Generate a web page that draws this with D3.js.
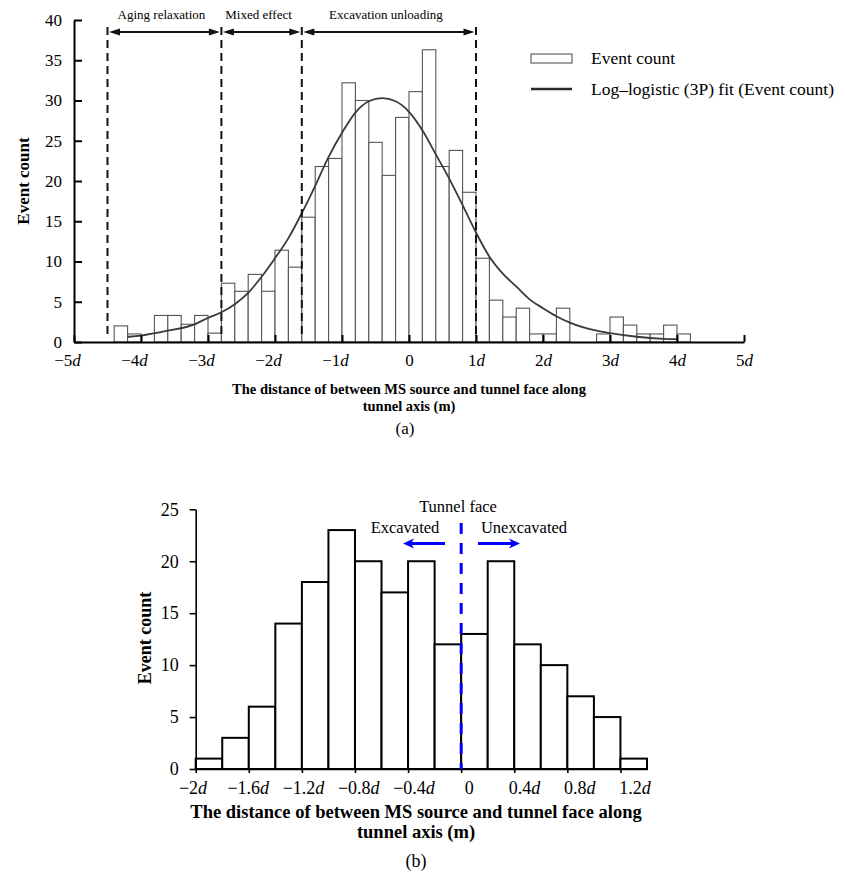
<!DOCTYPE html>
<html>
<head>
<meta charset="utf-8">
<title>MS event distance histograms</title>
<script src="https://d3js.org/d3.v7.min.js"></script>
<style>
body { margin: 0; background: #fff; }
svg { font-family: "Liberation Serif", "Times New Roman", serif; }
</style>
</head>
<body>
<div id="chart"></div>
<script>

// ---------- (a) data : distance in multiples of d ----------
var aBinWidth = 0.2;
var aBinLeft = [-4.4, -4.2, -4.0, -3.8, -3.6, -3.4, -3.2, -3.0, -2.8, -2.6, -2.4, -2.2, -2.0, -1.8,
                -1.6, -1.4, -1.2, -1.0, -0.8, -0.6, -0.4, -0.2, 0.0, 0.2, 0.4, 0.6, 0.8,
                1.0, 1.2, 1.4, 1.6, 1.8, 2.0, 2.2, 2.4, 2.6, 2.8, 3.0, 3.2, 3.4, 3.6, 3.8, 4.0];
var aCounts = [2.0, 1.0, 0, 3.3, 3.3, 2.2, 3.3, 1.1, 7.3, 6.3, 8.4, 6.3, 11.4, 9.3,
               15.5, 21.8, 22.8, 32.2, 30.0, 24.8, 20.7, 27.9, 31.1, 36.3, 21.8, 23.8, 18.6,
               10.4, 5.2, 3.1, 4.2, 1.0, 1.0, 4.2, 0, 0, 1.0, 3.1, 2.1, 1.0, 1.0, 2.1, 1.0];
// log-logistic fit
var aFitX = [-4.2, -4.0, -3.6, -3.2, -3.0, -2.8, -2.6, -2.4, -2.2, -2.0, -1.8, -1.6, -1.4, -1.2,
             -1.0, -0.8, -0.6, -0.4, -0.2, 0.0, 0.2, 0.4, 0.6, 0.8, 1.0, 1.2, 1.4, 1.6, 1.8,
             2.0, 2.2, 2.4, 2.8, 3.0, 3.4, 3.8, 4.0];
var aFitY = [0.65, 0.8, 1.4, 2.2, 3.0, 3.7, 4.7, 6.1, 8.1, 10.4, 12.9, 16.0, 19.4, 23.0,
             26.0, 28.5, 29.9, 30.3, 29.9, 28.6, 26.3, 23.3, 20.3, 17.0, 13.6, 10.6, 8.5, 6.9, 5.3,
             4.2, 3.2, 2.4, 1.4, 1.1, 0.65, 0.4, 0.35];
var aXTicks = [-5, -4, -3, -2, -1, 0, 1, 2, 3, 4, 5];
var aYTicks = [0, 5, 10, 15, 20, 25, 30, 35, 40];
var aZones = [-4.5, -2.8, -1.6, 1.0];
var aZoneLabels = ["Aging relaxation", "Mixed effect", "Excavation unloading"];
var aLegend = ["Event count", "Log\u2013logistic (3P) fit (Event count)"];

// ---------- (b) data ----------
var bBinWidth = 0.2;
var bBinLeft = [-2.0, -1.8, -1.6, -1.4, -1.2, -1.0, -0.8, -0.6, -0.4, -0.2, 0.0, 0.2, 0.4, 0.6, 0.8, 1.0, 1.2];
var bCounts = [1, 3, 6, 14, 18, 23, 20, 17, 20, 12, 13, 20, 12, 10, 7, 5, 1];
var bXTicks = [-2, -1.6, -1.2, -0.8, -0.4, 0, 0.4, 0.8, 1.2];
var bYTicks = [0, 5, 10, 15, 20, 25];
var bFace = 0;

var xTitle = ["The distance of between MS source and tunnel face along", "tunnel axis (m)"];

var svg = d3.select("#chart").append("svg")
  .attr("width", 845)
  .attr("height", 873);

// label "−4d" with italic d
function dLabel(sel, v) {
  sel.text(null);
  if (v === 0) { sel.text("0"); return; }
  var s = (v < 0 ? "\u2212" : "") + d3.format("~g")(Math.abs(v));
  sel.append("tspan").text(s);
  sel.append("tspan").attr("font-style", "italic").text("d");
}

// ================= chart (a) =================
var xA = d3.scaleLinear().domain([-5, 5]).range([74, 744]);
var yA = d3.scaleLinear().domain([0, 40]).range([342, 20]);
var gA = svg.append("g");

gA.append("g").selectAll("rect")
  .data(aBinLeft)
  .join("rect")
  .attr("x", d => xA(d))
  .attr("width", d => xA(d + aBinWidth) - xA(d))
  .attr("y", (d, i) => yA(aCounts[i]))
  .attr("height", (d, i) => yA(0) - yA(aCounts[i]))
  .attr("fill", "#fff")
  .attr("stroke", "#555")
  .attr("stroke-width", 1.1)
  .attr("display", (d, i) => aCounts[i] > 0 ? null : "none");

var fitLine = d3.line()
  .x((d, i) => xA(aFitX[i]))
  .y(d => yA(d))
  .curve(d3.curveMonotoneX);

gA.append("path")
  .attr("d", fitLine(aFitY))
  .attr("fill", "none")
  .attr("stroke", "#3a3a3a")
  .attr("stroke-width", 1.8);

// zone boundaries
gA.append("g").selectAll("line")
  .data(aZones)
  .join("line")
  .attr("x1", d => xA(d)).attr("x2", d => xA(d))
  .attr("y1", 27).attr("y2", yA(0) - 4)
  .attr("stroke", "#111")
  .attr("stroke-width", 2)
  .attr("stroke-dasharray", "8,5");

// double arrows with labels
var arrowY = 32;
aZoneLabels.forEach(function(lab, i) {
  var x1 = xA(aZones[i]) + 1.5, x2 = xA(aZones[i + 1]) - 1.5;
  gA.append("line")
    .attr("x1", x1 + 6).attr("x2", x2 - 6)
    .attr("y1", arrowY).attr("y2", arrowY)
    .attr("stroke", "#111").attr("stroke-width", 1.8);
  gA.append("path")
    .attr("d", `M${x1},${arrowY}L${x1 + 11},${arrowY - 3.5}L${x1 + 11},${arrowY + 3.5}Z`)
    .attr("fill", "#111");
  gA.append("path")
    .attr("d", `M${x2},${arrowY}L${x2 - 11},${arrowY - 3.5}L${x2 - 11},${arrowY + 3.5}Z`)
    .attr("fill", "#111");
  gA.append("text")
    .attr("x", (x1 + x2) / 2 - 3)
    .attr("y", 19)
    .attr("text-anchor", "middle")
    .attr("font-size", 13)
    .text(lab);
});

// axes
var axA = gA.append("g")
  .attr("transform", `translate(0,${yA(0)})`)
  .call(d3.axisBottom(xA).tickValues(aXTicks).tickSize(-7).tickSizeOuter(0).tickPadding(12));
axA.selectAll(".tick text")
  .attr("font-size", 17)
  .attr("font-family", "Liberation Serif, Times New Roman, serif")
  .attr("fill", "#000")
  .attr("x", d => d < 0 ? -7 : 0)
  .each(function(d) { dLabel(d3.select(this), d); });

var ayA = gA.append("g")
  .attr("transform", `translate(${xA(-5)},0)`)
  .call(d3.axisLeft(yA).tickValues(aYTicks).tickSize(-8).tickSizeOuter(0).tickPadding(12));
ayA.selectAll(".tick text")
  .attr("font-size", 17)
  .attr("font-family", "Liberation Serif, Times New Roman, serif")
  .attr("fill", "#000");

[axA, ayA].forEach(function(a) {
  a.select(".domain").attr("stroke", "#000").attr("stroke-width", 2);
  a.selectAll(".tick line").attr("stroke", "#000").attr("stroke-width", 2);
});

gA.append("text")
  .attr("transform", "translate(23,181) rotate(-90)")
  .attr("text-anchor", "middle")
  .attr("dominant-baseline", "central")
  .attr("font-weight", "bold")
  .attr("font-size", 17)
  .text("Event count");

gA.selectAll(".xtitle")
  .data(xTitle)
  .join("text")
  .attr("x", 409)
  .attr("y", (d, i) => 394 + i * 17)
  .attr("text-anchor", "middle")
  .attr("font-weight", "bold")
  .attr("font-size", 14.5)
  .text(d => d);

gA.append("text")
  .attr("x", 405).attr("y", 434)
  .attr("text-anchor", "middle")
  .attr("font-size", 17)
  .text("(a)");

// legend
var leg = gA.append("g");
leg.append("rect")
  .attr("x", 531).attr("y", 54).attr("width", 41).attr("height", 9)
  .attr("fill", "#fff").attr("stroke", "#555").attr("stroke-width", 1.1);
leg.append("line")
  .attr("x1", 531).attr("x2", 572).attr("y1", 89).attr("y2", 89)
  .attr("stroke", "#2a2a2a").attr("stroke-width", 2.5);
leg.selectAll("text")
  .data(aLegend)
  .join("text")
  .attr("x", 591)
  .attr("y", (d, i) => 64 + i * 31)
  .attr("font-size", 17.5)
  .text(d => d);

// ================= chart (b) =================
var xB = d3.scaleLinear().domain([-2, 1.4]).range([195.7, 647]);
var xBLabel = d3.scaleLinear().domain([-2, 1.2]).range([193, 635]);
var yB = d3.scaleLinear().domain([0, 25]).range([769, 509.3]);
var gB = svg.append("g");

gB.append("g").selectAll("rect")
  .data(bBinLeft)
  .join("rect")
  .attr("x", d => xB(d))
  .attr("width", d => xB(d + bBinWidth) - xB(d))
  .attr("y", (d, i) => yB(bCounts[i]))
  .attr("height", (d, i) => yB(0) - yB(bCounts[i]))
  .attr("fill", "#fff")
  .attr("stroke", "#000")
  .attr("stroke-width", 2);

var axB = gB.append("g")
  .attr("transform", `translate(0,${yB(0)})`)
  .call(d3.axisBottom(xB).tickValues(bXTicks).tickSize(4).tickSizeOuter(0).tickFormat(""));
gB.append("g").selectAll("text")
  .data(bXTicks)
  .join("text")
  .attr("x", d => xBLabel(d))
  .attr("y", yB(0) + 25)
  .attr("text-anchor", "middle")
  .attr("font-size", 18)
  .each(function(d) { dLabel(d3.select(this), d); });

var ayB = gB.append("g")
  .attr("transform", `translate(${xB(-2)},0)`)
  .call(d3.axisLeft(yB).tickValues(bYTicks).tickSize(6).tickSizeOuter(0).tickPadding(11));
ayB.selectAll(".tick text")
  .attr("font-size", 18)
  .attr("font-family", "Liberation Serif, Times New Roman, serif")
  .attr("fill", "#000");
[axB, ayB].forEach(function(a) {
  a.select(".domain").attr("stroke", "#000").attr("stroke-width", 1.6);
  a.selectAll(".tick line").attr("stroke", "#000").attr("stroke-width", 1.6);
});

// tunnel face
var xf = xB(bFace);
gB.append("line")
  .attr("x1", xf).attr("x2", xf)
  .attr("y1", 523).attr("y2", yB(0))
  .attr("stroke", "#0000ff")
  .attr("stroke-width", 3)
  .attr("stroke-dasharray", "11,9");

var arrY = 543.5;
gB.append("line")
  .attr("x1", 445).attr("x2", 410).attr("y1", arrY).attr("y2", arrY)
  .attr("stroke", "#0000ff").attr("stroke-width", 3);
gB.append("path")
  .attr("d", `M403,${arrY}L414,${arrY - 5}L411,${arrY}L414,${arrY + 5}Z`)
  .attr("fill", "#0000ff");
gB.append("line")
  .attr("x1", 478).attr("x2", 513).attr("y1", arrY).attr("y2", arrY)
  .attr("stroke", "#0000ff").attr("stroke-width", 3);
gB.append("path")
  .attr("d", `M520,${arrY}L509,${arrY - 5}L512,${arrY}L509,${arrY + 5}Z`)
  .attr("fill", "#0000ff");

gB.append("text").attr("x", 458).attr("y", 512).attr("text-anchor", "middle")
  .attr("font-size", 16.5).text("Tunnel face");
gB.append("text").attr("x", 405).attr("y", 533).attr("text-anchor", "middle")
  .attr("font-size", 16.5).text("Excavated");
gB.append("text").attr("x", 524).attr("y", 533).attr("text-anchor", "middle")
  .attr("font-size", 16.5).text("Unexcavated");

gB.append("text")
  .attr("transform", "translate(145,638) rotate(-90)")
  .attr("text-anchor", "middle")
  .attr("dominant-baseline", "central")
  .attr("font-weight", "bold")
  .attr("font-size", 18)
  .text("Event count");

gB.selectAll(".xtitle")
  .data(xTitle)
  .join("text")
  .attr("x", 416)
  .attr("y", (d, i) => 818 + i * 20)
  .attr("text-anchor", "middle")
  .attr("font-weight", "bold")
  .attr("font-size", 18.5)
  .text(d => d);

gB.append("text")
  .attr("x", 416).attr("y", 867)
  .attr("text-anchor", "middle")
  .attr("font-size", 18)
  .text("(b)");

</script>
</body>
</html>
